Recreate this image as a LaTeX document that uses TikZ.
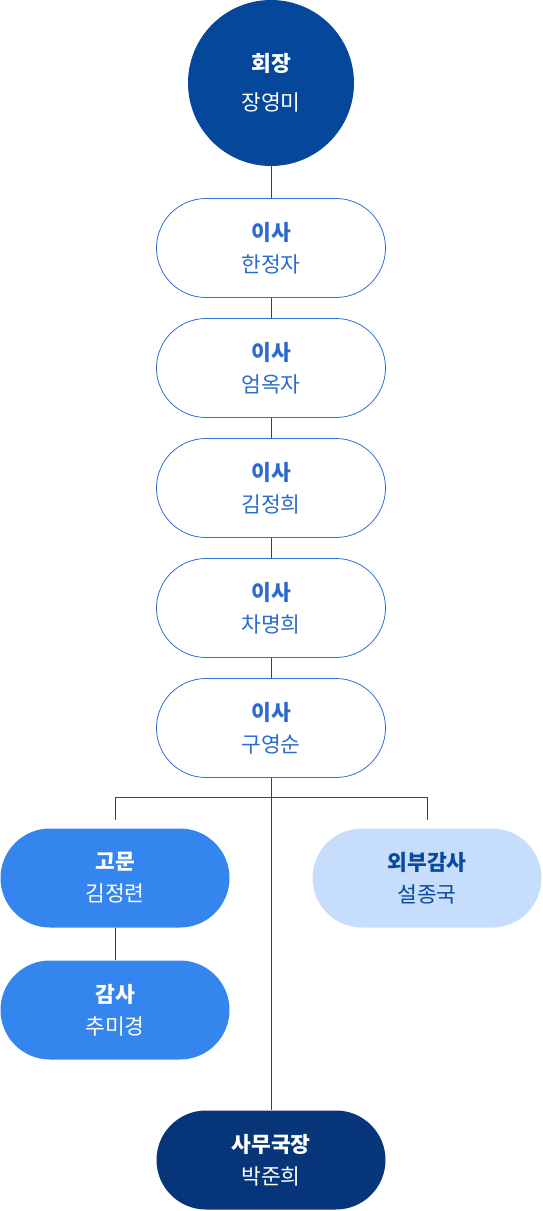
\documentclass[tikz,border=0pt]{standalone}
\usepackage{fontspec}
\newfontfamily\cjk{Noto Sans CJK KR}
\definecolor{chair}{HTML}{05489B}
\definecolor{pillline}{HTML}{2F6FD6}
\definecolor{pilltext}{HTML}{2A6BCC}
\definecolor{conn}{HTML}{0F4A9E}
\definecolor{advfill}{HTML}{3585EE}
\definecolor{extfill}{HTML}{C6DEFB}
\definecolor{exttext}{HTML}{0A4A9E}
\definecolor{secfill}{HTML}{06357A}
\begin{document}
\begin{tikzpicture}[x=1pt,y=-1pt,
  pill/.style={rectangle, rounded corners=49.5pt, minimum width=229pt, minimum height=99pt, inner sep=0pt, align=center, font=\cjk\fontsize{21.5}{32}\selectfont},
  board/.style={pill, draw=pillline, line width=0.8pt, fill=white, text=pilltext},
  advbox/.style={pill, fill=advfill, text=white},
  extbox/.style={pill, fill=extfill, text=exttext},
  secbox/.style={pill, fill=secfill, text=white},
  chairbox/.style={circle, minimum size=166pt, inner sep=0pt, fill=chair, text=white, align=center, font=\cjk\fontsize{21.5}{39}\selectfont},
  link/.style={draw=conn, line width=0.9pt}
]
\useasboundingbox (0,0) rectangle (542,1211);
\node[chairbox] (chair) at (271,83) {\bfseries 회장\\장영미};
\node[board] (d1) at (271,248) {\bfseries 이사\\한정자};
\node[board] (d2) at (271,368) {\bfseries 이사\\엄옥자};
\node[board] (d3) at (271,488) {\bfseries 이사\\김정희};
\node[board] (d4) at (271,608) {\bfseries 이사\\차명희};
\node[board] (d5) at (271,728) {\bfseries 이사\\구영순};
\node[advbox] (adv) at (115,878) {\bfseries 고문\\김정련};
\node[extbox] (ext) at (427,878) {\bfseries 외부감사\\설종국};
\node[advbox] (aud) at (115,1010) {\bfseries 감사\\추미경};
\node[secbox] (sec) at (271,1160) {\bfseries 사무국장\\박준희};
\coordinate (br) at (271,797);
\coordinate (la) at (115,820);
\coordinate (ra) at (427,820);
\draw[link] (chair.south) -- (d1.north);
\draw[link] (d1.south) -- (d2.north);
\draw[link] (d2.south) -- (d3.north);
\draw[link] (d3.south) -- (d4.north);
\draw[link] (d4.south) -- (d5.north);
\draw[link] (d5.south) -- (sec.north);
\draw[link] (la) -- (la |- br) -- (ra |- br) -- (ra);
\draw[link] (adv.south) -- (aud.north);
\end{tikzpicture}
\end{document}
